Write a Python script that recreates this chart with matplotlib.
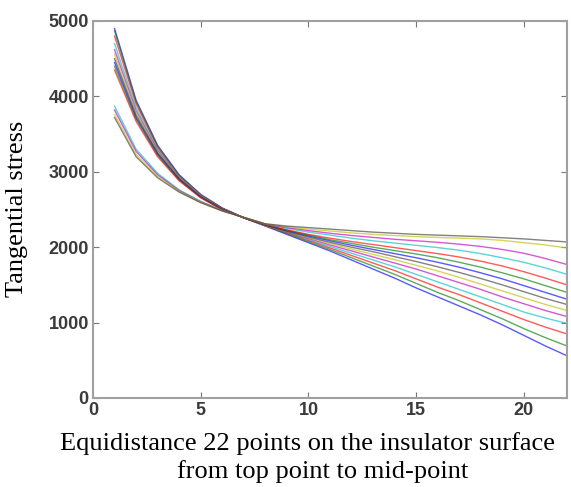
import matplotlib
matplotlib.use("Agg")
import matplotlib.pyplot as plt

x = list(range(1, 23))

# Tangential stress curves (bottom-ending to top-ending)
L1 = [4900, 3950, 3350, 2960, 2700, 2520, 2390, 2280, 2170, 2060, 1950, 1830, 1710, 1590, 1460, 1340, 1220, 1100, 970, 830, 690, 560]
L2 = [4870, 3930, 3340, 2950, 2695, 2515, 2390, 2285, 2180, 2075, 1970, 1860, 1750, 1640, 1520, 1400, 1290, 1170, 1050, 920, 800, 690]
L3 = [4800, 3900, 3320, 2940, 2690, 2515, 2390, 2285, 2190, 2090, 1990, 1890, 1790, 1690, 1580, 1470, 1370, 1260, 1150, 1040, 940, 850]
L4 = [4700, 3850, 3300, 2930, 2685, 2510, 2390, 2290, 2195, 2100, 2010, 1920, 1830, 1740, 1640, 1540, 1440, 1340, 1240, 1140, 1060, 990]
L5 = [4620, 3810, 3280, 2920, 2680, 2510, 2390, 2290, 2200, 2115, 2030, 1950, 1870, 1790, 1710, 1620, 1530, 1440, 1340, 1250, 1160, 1080]
L6 = [4560, 3780, 3265, 2915, 2675, 2505, 2390, 2290, 2205, 2125, 2050, 1975, 1905, 1835, 1760, 1685, 1600, 1510, 1420, 1330, 1240, 1160]
L7 = [4500, 3750, 3250, 2905, 2670, 2505, 2390, 2295, 2210, 2135, 2065, 2000, 1940, 1875, 1810, 1740, 1665, 1585, 1500, 1410, 1320, 1240]
L8 = [4450, 3720, 3235, 2900, 2665, 2500, 2390, 2295, 2220, 2150, 2085, 2025, 1970, 1915, 1860, 1800, 1735, 1660, 1580, 1490, 1400, 1310]
L9 = [4400, 3700, 3220, 2890, 2660, 2500, 2390, 2295, 2225, 2160, 2100, 2050, 2000, 1955, 1910, 1860, 1800, 1735, 1660, 1580, 1490, 1400]
L10 = [4350, 3670, 3200, 2880, 2655, 2495, 2390, 2300, 2230, 2170, 2120, 2075, 2035, 1995, 1955, 1915, 1870, 1815, 1750, 1675, 1590, 1500]
L11 = [3870, 3300, 2980, 2760, 2610, 2490, 2395, 2305, 2250, 2200, 2160, 2120, 2085, 2055, 2025, 1995, 1960, 1915, 1860, 1800, 1725, 1640]
L12 = [3820, 3270, 2960, 2750, 2600, 2485, 2395, 2305, 2260, 2220, 2185, 2155, 2130, 2105, 2085, 2065, 2040, 2010, 1970, 1920, 1850, 1770]
L13 = [3760, 3230, 2940, 2740, 2595, 2480, 2395, 2310, 2270, 2240, 2215, 2190, 2170, 2155, 2140, 2130, 2120, 2110, 2090, 2060, 2030, 1990]
L14 = [3720, 3200, 2920, 2730, 2590, 2480, 2395, 2310, 2280, 2260, 2240, 2220, 2200, 2185, 2170, 2160, 2150, 2140, 2125, 2110, 2090, 2070]

series = [L1, L2, L3, L4, L5, L6, L7, L8, L9, L10, L11, L12, L13, L14]
colors = ["#0000ff", "#008000", "#ff0000", "#00bfbf", "#bf00bf", "#bfbf00", "#404040"]

xticks = [0, 5, 10, 15, 20]
yticks = [0, 1000, 2000, 3000, 4000, 5000]

fig = plt.figure(figsize=(5.71, 4.87), dpi=100)
ax = fig.add_axes([93/571, 1 - 398/487, (567 - 93)/571, (398 - 21)/487])

for i, s in enumerate(series):
    ax.plot(x, s, color=colors[i % len(colors)], lw=1.0, alpha=0.65)

ax.set_xlim(0, 22)
ax.set_ylim(0, 5000)
ax.set_xticks(xticks)
ax.set_yticks(yticks)
ax.tick_params(direction="in", length=4, width=0.8, color="#777777",
               top=True, right=True, labelsize=13, labelcolor="#3a3a3a", pad=3)
for lab in ax.get_xticklabels() + ax.get_yticklabels():
    lab.set_family("Liberation Sans")
    lab.set_weight("bold")
for sp in ax.spines.values():
    sp.set_color("#a0a0a0")
    sp.set_linewidth(1.5)

fig.text(308/571, 1 - 444/487, "Equidistance 22 points on the insulator surface",
         ha="center", va="center", family="Liberation Serif", fontsize=19)
fig.text(323/571, 1 - 472/487, "from top point to mid-point",
         ha="center", va="center", family="Liberation Serif", fontsize=19)
fig.text(17/571, 1 - 209/487, "Tangential stress", rotation=90,
         ha="center", va="center", family="Liberation Serif", fontsize=19)

fig.savefig("out.png", dpi=100)
